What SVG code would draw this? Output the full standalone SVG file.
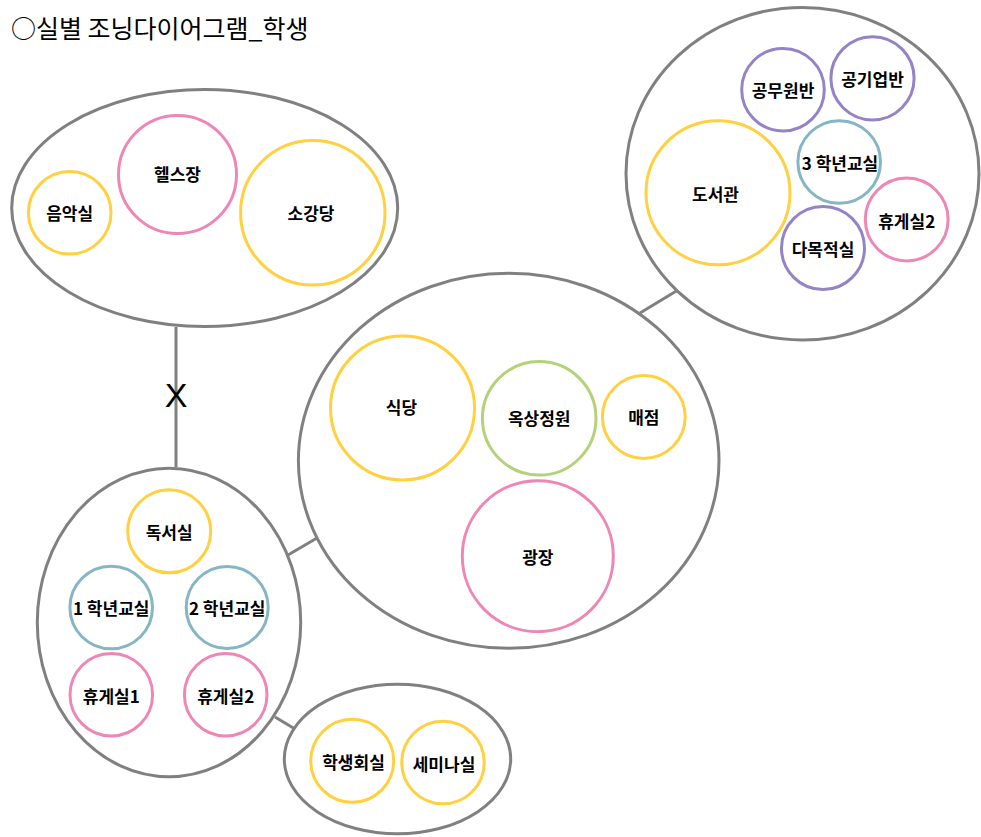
<svg xmlns="http://www.w3.org/2000/svg" width="981" height="837" viewBox="0 0 981 837">
<style>
.grp{fill:#fff;stroke:#808080;stroke-width:3}
.room{fill:#fff;stroke-width:3}
.y{stroke:#FFD03F}
.p{stroke:#EE86B6}
.t{stroke:#86B6C4}
.v{stroke:#9583C6}
.g{stroke:#B5D27A}
.lbl{font-family:"Noto Sans CJK KR","Liberation Sans",sans-serif;font-weight:bold;font-size:17px;fill:#000;text-anchor:middle;dominant-baseline:central}
.conn{stroke:#808080;stroke-width:3;fill:none}
</style>
<rect width="981" height="837" fill="#fff"/>
<text x="11" y="38" font-family="'Noto Sans CJK KR','Liberation Sans',sans-serif" font-size="25" fill="#000">○실별 조닝다이어그램_학생</text>

<g id="connectors">
<line class="conn" x1="176" y1="327" x2="176" y2="467"/>
<line class="conn" x1="288" y1="555" x2="317" y2="538"/>
<line class="conn" x1="275" y1="717" x2="295" y2="729"/>
<line class="conn" x1="640" y1="313" x2="678" y2="290"/>
<text x="176" y="395" font-family="'Liberation Sans',sans-serif" font-size="34" fill="#000" text-anchor="middle" dominant-baseline="central">X</text>
</g>

<g id="group-arts">
<ellipse class="grp" cx="204.7" cy="208" rx="193" ry="118.5"/>
<g id="music"><circle class="room y" cx="69.7" cy="212.8" r="41.3"/><text class="lbl" x="69.7" y="212.8">음악실</text></g>
<g id="gym"><circle class="room p" cx="177.5" cy="174.5" r="59"/><text class="lbl" x="177.5" y="173">헬스장</text></g>
<g id="hall"><circle class="room y" cx="312.8" cy="212.8" r="72.2"/><text class="lbl" x="311" y="212">소강당</text></g>
</g>

<g id="group-common">
<ellipse class="grp" cx="508.7" cy="460.8" rx="210.3" ry="187.5"/>
<g id="cafeteria"><circle class="room y" cx="402.5" cy="408" r="72"/><text class="lbl" x="401.5" y="406.5">식당</text></g>
<g id="rooftop"><circle class="room g" cx="539.2" cy="418.3" r="56.8"/><text class="lbl" x="539.2" y="417">옥상정원</text></g>
<g id="store"><circle class="room y" cx="643.8" cy="417" r="41.4"/><text class="lbl" x="643.8" y="416.5">매점</text></g>
<g id="plaza"><circle class="room p" cx="537.8" cy="556.2" r="75.5"/><text class="lbl" x="537.8" y="556">광장</text></g>
</g>

<g id="group-senior">
<ellipse class="grp" cx="802.5" cy="173.7" rx="176.5" ry="166.3"/>
<g id="library"><circle class="room y" cx="718" cy="192.8" r="72"/><text class="lbl" x="715.5" y="193">도서관</text></g>
<g id="civil"><circle class="room v" cx="783" cy="89.7" r="41.3"/><text class="lbl" x="783" y="89">공무원반</text></g>
<g id="corp"><circle class="room v" cx="872.5" cy="78.3" r="41.6"/><text class="lbl" x="872.5" y="78">공기업반</text></g>
<g id="class3"><circle class="room t" cx="839.2" cy="162" r="41.3"/><text class="lbl" x="840" y="162.5">3 학년교실</text></g>
<g id="lounge2b"><circle class="room p" cx="906.7" cy="219.5" r="41.4"/><text class="lbl" x="906.7" y="220.5">휴게실2</text></g>
<g id="multi"><circle class="room v" cx="823" cy="248" r="41.5"/><text class="lbl" x="823" y="248">다목적실</text></g>
</g>

<g id="group-junior">
<ellipse class="grp" cx="169" cy="622.5" rx="131.7" ry="154.2"/>
<g id="reading"><circle class="room y" cx="169.2" cy="531.3" r="41.5"/><text class="lbl" x="169.2" y="531">독서실</text></g>
<g id="class1"><circle class="room t" cx="111.2" cy="607.5" r="41.3"/><text class="lbl" x="111.2" y="607.5">1 학년교실</text></g>
<g id="class2"><circle class="room t" cx="227.2" cy="607.5" r="41"/><text class="lbl" x="227.2" y="607.5">2 학년교실</text></g>
<g id="lounge1"><circle class="room p" cx="111.3" cy="694.7" r="41.3"/><text class="lbl" x="111.3" y="695">휴게실1</text></g>
<g id="lounge2"><circle class="room p" cx="225.7" cy="694.7" r="41.3"/><text class="lbl" x="225.7" y="695">휴게실2</text></g>
</g>

<g id="group-council">
<ellipse class="grp" cx="397.5" cy="759" rx="113.2" ry="74.8"/>
<g id="council"><circle class="room y" cx="352.2" cy="760.8" r="41.5"/><text class="lbl" x="353.5" y="761">학생회실</text></g>
<g id="seminar"><circle class="room y" cx="443" cy="762.5" r="41.3"/><text class="lbl" x="444" y="763">세미나실</text></g>
</g>
</svg>
